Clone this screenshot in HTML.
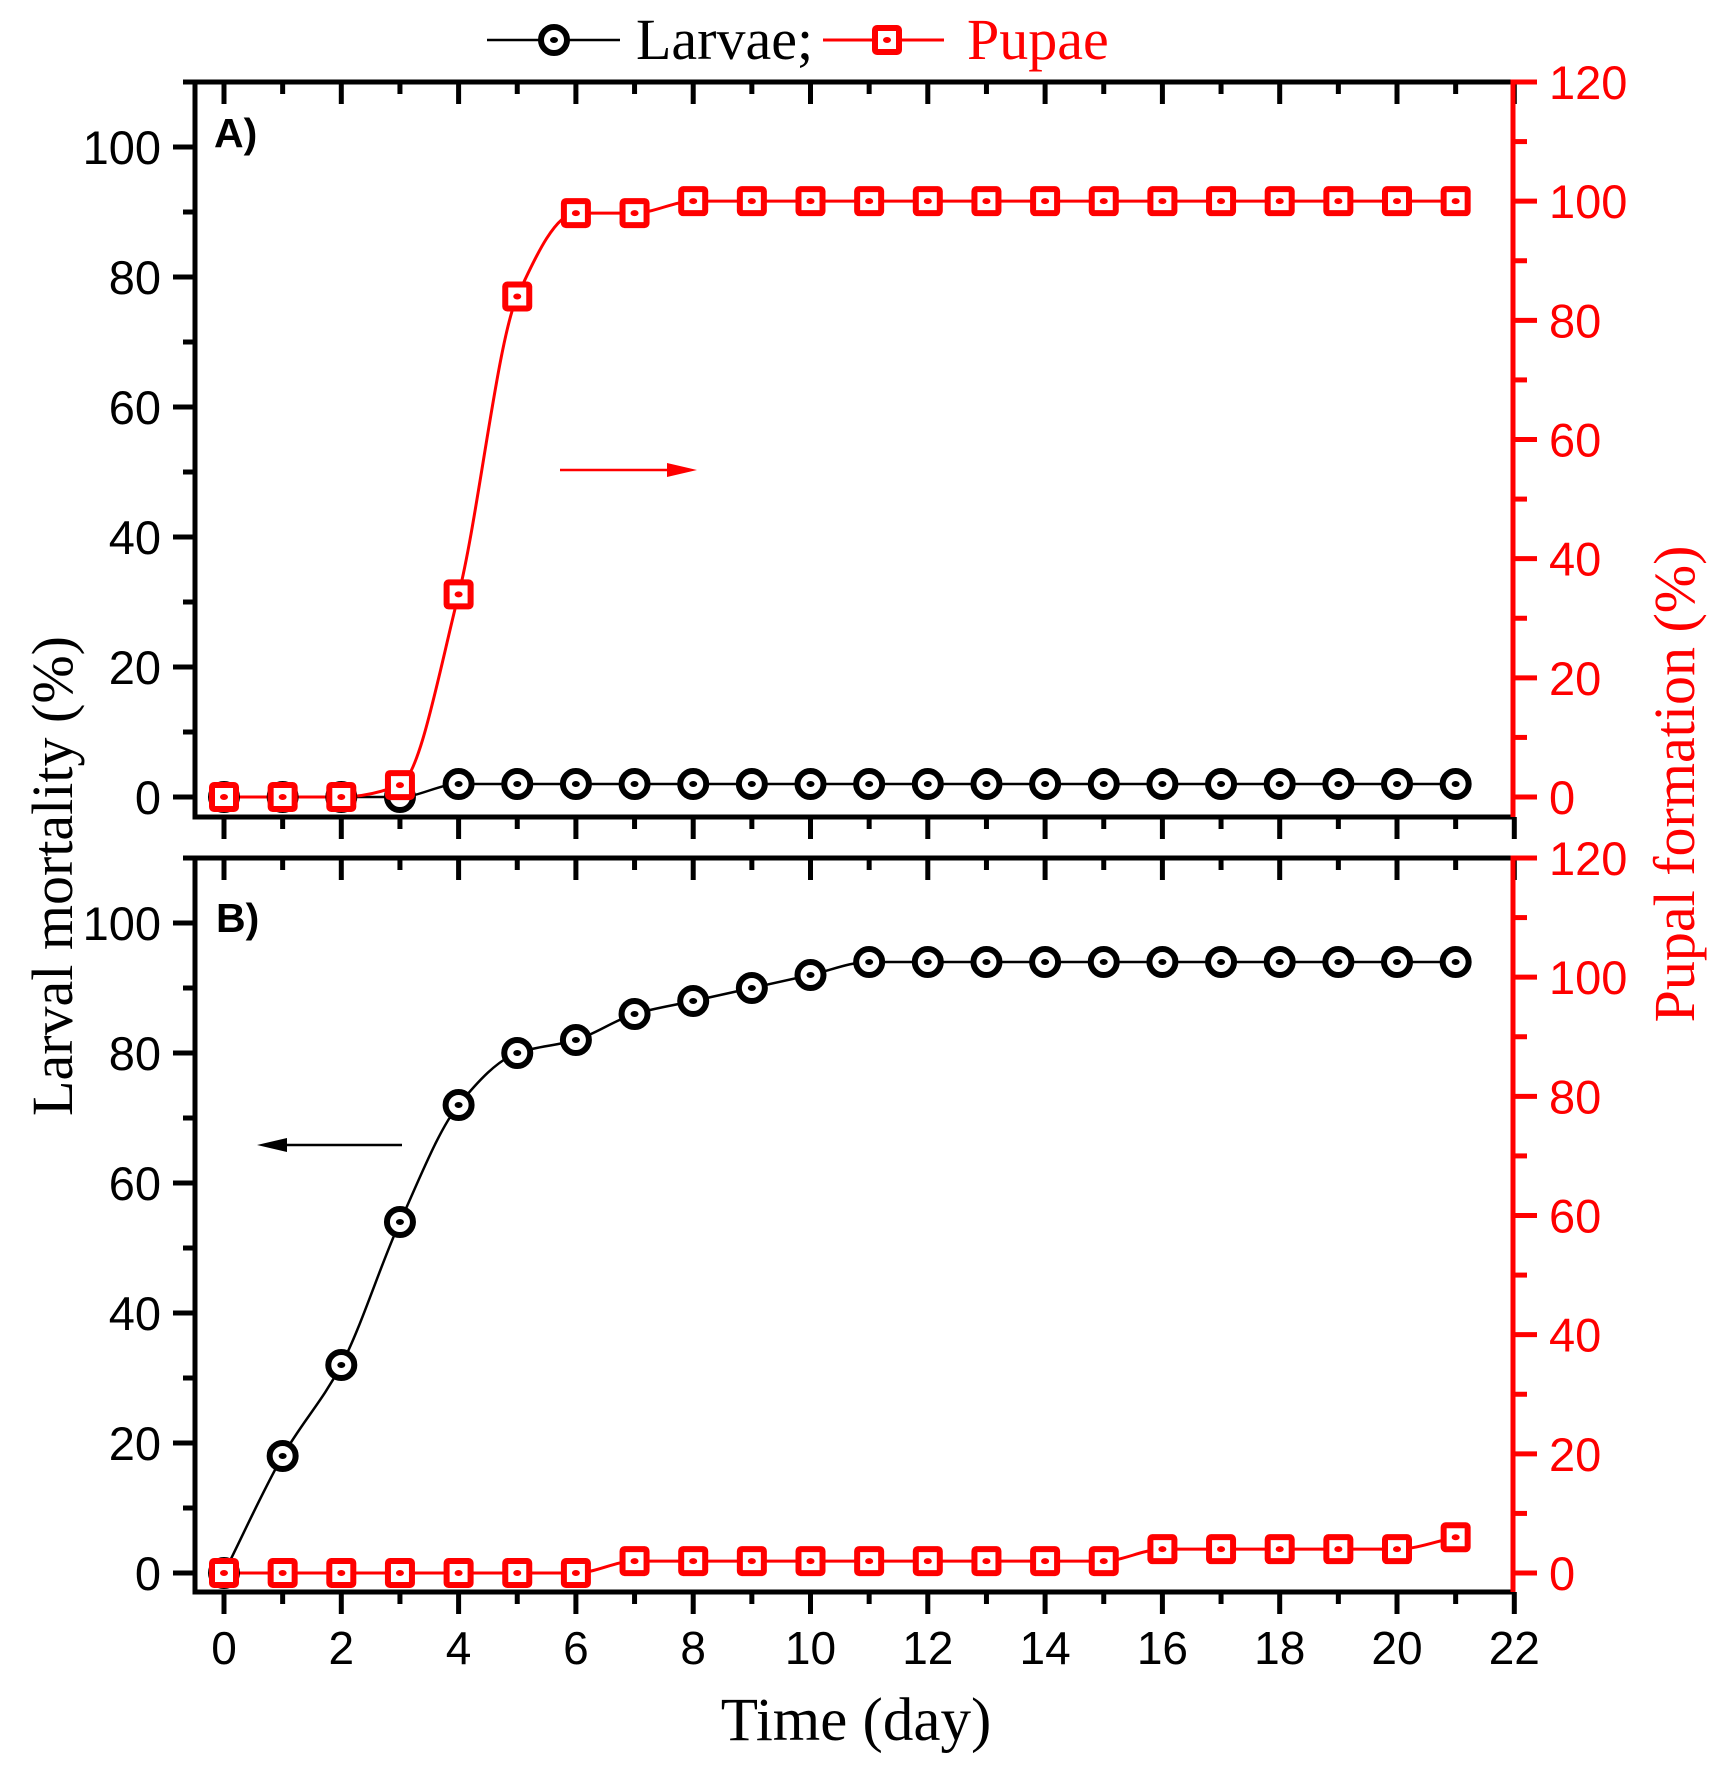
<!DOCTYPE html>
<html><head><meta charset="utf-8"><style>
html,body{margin:0;padding:0;background:#fff;}
svg{display:block;}
text{font-family:"Liberation Sans",Arial,sans-serif;}
.serif{font-family:"Liberation Serif","Times New Roman",serif;}
</style></head><body>
<svg id="s" xmlns="http://www.w3.org/2000/svg" width="1728" height="1768" viewBox="0 0 1728 1768">
<rect width="1728" height="1768" fill="#fff"/>
<g id="g"></g>
<!-- legend -->
<line x1="487" y1="40" x2="620" y2="40" stroke="#000" stroke-width="2.5"/>
<circle cx="554" cy="40" r="13" fill="#fff" stroke="#000" stroke-width="6"/>
<ellipse cx="554" cy="40" rx="4" ry="3" fill="#000"/>
<text x="636" y="59" class="serif" font-size="58" fill="#000">Larvae;</text>
<line x1="823" y1="40" x2="944" y2="40" stroke="#f00" stroke-width="3"/>
<rect x="875" y="28" width="24" height="24" rx="2" fill="#fff" stroke="#f00" stroke-width="6"/>
<ellipse cx="887" cy="40" rx="4" ry="3" fill="#f00"/>
<text x="967" y="59" class="serif" font-size="58" fill="#f00">Pupae</text>
<!-- axis titles -->
<text x="856" y="1740" class="serif" font-size="61" text-anchor="middle">Time (day)</text>
<text transform="translate(72,876) rotate(-90)" class="serif" font-size="58" text-anchor="middle">Larval mortality (%)</text>
<text transform="translate(1694,784) rotate(-90)" class="serif" font-size="58" text-anchor="middle" fill="#f00">Pupal formation (%)</text>
<!-- panel labels -->
<text x="214" y="147" font-size="41" font-weight="bold">A)</text>
<text x="216" y="932" font-size="41" font-weight="bold">B)</text>
<!-- arrows -->
<line x1="560" y1="470" x2="672" y2="470" stroke="#f00" stroke-width="2.5"/>
<polygon points="697,470 667,463 667,477" fill="#f00"/>
<line x1="402" y1="1145" x2="282" y2="1145" stroke="#000" stroke-width="2.5"/>
<polygon points="257,1145 287,1138 287,1152" fill="#000"/>
</svg>
<script>
(function(){
var NS="http://www.w3.org/2000/svg",g=document.getElementById("g");
function el(t,a,txt){var e=document.createElementNS(NS,t);for(var k in a)e.setAttribute(k,a[k]);if(txt!=null)e.textContent=txt;g.appendChild(e);return e;}
function X(d){return 224+58.65*d;}
var L=195,R=1513;
var panels=[
 {top:82,bot:817,z:797,lar:[0,0,0,0,2,2,2,2,2,2,2,2,2,2,2,2,2,2,2,2,2,2],
  pup:[0,0,0,2,34,84,98,98,100,100,100,100,100,100,100,100,100,100,100,100,100,100]},
 {top:858,bot:1592,z:1573,lar:[0,18,32,54,72,80,82,86,88,90,92,94,94,94,94,94,94,94,94,94,94,94],
  pup:[0,0,0,0,0,0,0,2,2,2,2,2,2,2,2,2,4,4,4,4,4,6]}
];
// monotone cubic (Fritsch-Carlson)
function path(pts){
 var n=pts.length,dx=[],m=[],t=[];
 for(var i=0;i<n-1;i++){dx[i]=pts[i+1][0]-pts[i][0];m[i]=(pts[i+1][1]-pts[i][1])/dx[i];}
 t[0]=m[0];t[n-1]=m[n-2];
 for(var i=1;i<n-1;i++){
  if(m[i-1]*m[i]<=0)t[i]=0;
  else{var w1=2*dx[i]+dx[i-1],w2=dx[i]+2*dx[i-1];t[i]=(w1+w2)/(w1/m[i-1]+w2/m[i]);}
 }
 var d="M"+pts[0][0]+","+pts[0][1];
 for(var i=0;i<n-1;i++){
  var h=dx[i]/3;
  d+=" C"+(pts[i][0]+h)+","+(pts[i][1]+t[i]*h)+" "+(pts[i+1][0]-h)+","+(pts[i+1][1]-t[i+1]*h)+" "+pts[i+1][0]+","+pts[i+1][1];
 }
 return d;
}
panels.forEach(function(P,pi){
 var YL=function(v){return P.z-6.5*v;}, YR=function(v){return P.z-715/120*v;};
 for(var d=0;d<=22;d++){
  var x=X(d),maj=d%2==0,len=maj?22:12;
  el("line",{x1:x,y1:P.top,x2:x,y2:P.top+len,stroke:"#000","stroke-width":5});
  el("line",{x1:x,y1:P.bot,x2:x,y2:P.bot+len,stroke:"#000","stroke-width":5});
  if(pi==1&&maj) el("text",{x:x,y:1664,"font-size":46,"text-anchor":"middle"},String(d));
 }
 for(var v=0;v<=110;v+=10){
  var y=YL(v),maj=v%20==0;
  el("line",{x1:L-(maj?22:12),y1:y,x2:L,y2:y,stroke:"#000","stroke-width":5});
  if(maj&&v<=100) el("text",{x:161,y:y+17,"font-size":47,"text-anchor":"end"},String(v));
 }
 for(var v=0;v<=120;v+=10){
  var y=YR(v),maj=v%20==0;
  el("line",{x1:R,y1:y,x2:R+(maj?24:14),y2:y,stroke:"#f00","stroke-width":5});
  if(maj) el("text",{x:1549,y:y+17,"font-size":47,fill:"#f00"},String(v));
 }
 el("line",{x1:L,y1:P.top,x2:R,y2:P.top,stroke:"#000","stroke-width":5});
 el("line",{x1:L,y1:P.bot,x2:R,y2:P.bot,stroke:"#000","stroke-width":5});
 el("line",{x1:L,y1:P.top-2.5,x2:L,y2:P.bot+2.5,stroke:"#000","stroke-width":5});
 el("line",{x1:R,y1:P.top-2.5,x2:R,y2:P.bot,stroke:"#f00","stroke-width":5});
 var lp=P.lar.map(function(v,i){return [X(i),YL(v)];});
 var pp=P.pup.map(function(v,i){return [X(i),YR(v)];});
 el("path",{d:path(lp),fill:"none",stroke:"#000","stroke-width":2.5});
 el("path",{d:path(pp),fill:"none",stroke:"#f00","stroke-width":3});
 lp.forEach(function(p){
  el("circle",{cx:p[0],cy:p[1],r:13,fill:"#fff",stroke:"#000","stroke-width":6});
  el("ellipse",{cx:p[0],cy:p[1],rx:4,ry:3,fill:"#000"});
 });
 pp.forEach(function(p){
  el("rect",{x:p[0]-12,y:p[1]-12,width:24,height:24,rx:2,fill:"#fff",stroke:"#f00","stroke-width":6});
  el("ellipse",{cx:p[0],cy:p[1],rx:4,ry:3,fill:"#f00"});
 });
});
})();
</script>
</body></html>
